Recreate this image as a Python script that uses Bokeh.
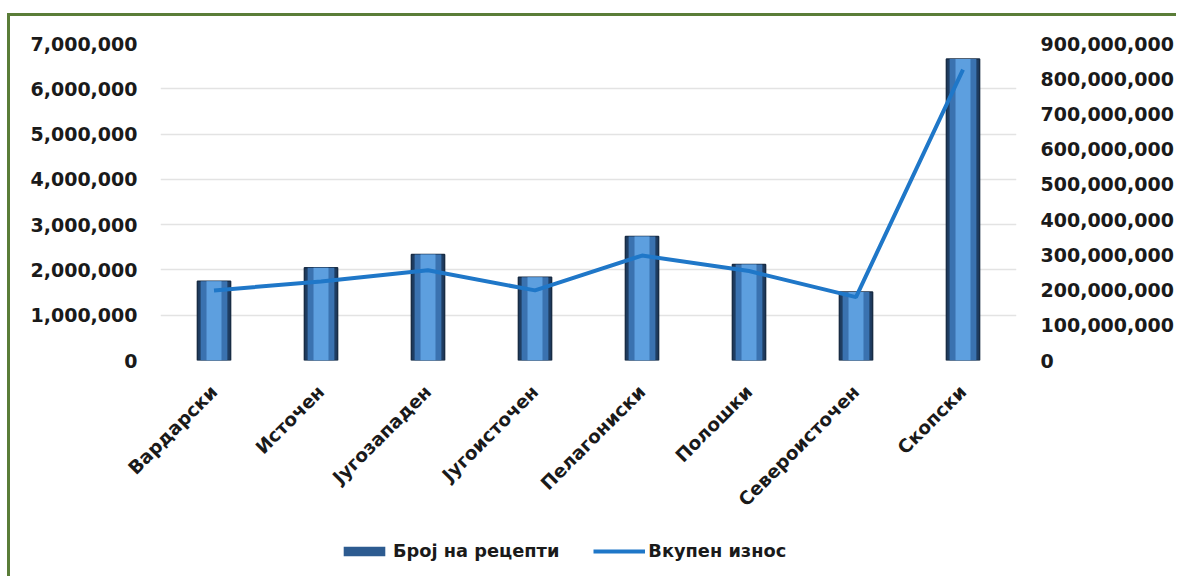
from math import pi
from bokeh.plotting import figure
from bokeh.models import (ColumnDataSource, FactorRange, Range1d, LinearAxis,
                          NumeralTickFormatter, Legend, LegendItem, FixedTicker)
from bokeh.layouts import column
from bokeh.embed import file_html
from bokeh.resources import INLINE

regions = ["Вардарски", "Источен", "Југозападен", "Југоисточен",
           "Пелагониски", "Полошки", "Североисточен", "Скопски"]
prescriptions = [1750000, 2050000, 2340000, 1840000, 2740000, 2120000, 1510000, 6660000]
total_amount = [199000000, 224000000, 256000000, 199000000, 298000000, 254000000, 180000000, 826000000]

left_ticks = [0, 1000000, 2000000, 3000000, 4000000, 5000000, 6000000, 7000000]
right_ticks = [0, 100000000, 200000000, 300000000, 400000000, 500000000,
               600000000, 700000000, 800000000, 900000000]

src = ColumnDataSource(dict(x=regions, bars=prescriptions, amt=total_amount))

FONT = "DejaVu Sans"
W = 1166
xr = FactorRange(*regions)

p = figure(x_range=xr, y_range=Range1d(0, 7000000),
           width=W, height=514, output_backend="svg", toolbar_location=None,
           min_border_left=150, min_border_right=160, min_border_top=27,
           min_border_bottom=170)
p.extra_y_ranges = {"amt": Range1d(0, 900000000)}
p.outline_line_color = None
p.background_fill_color = "white"
p.border_fill_color = "white"

outer = p.vbar(x="x", top="bars", width=0.31, source=src,
               fill_color="#1f3d62", line_color="#182c44", line_width=1.5)
mid = p.vbar(x="x", top="bars", width=0.25, source=src,
             fill_color="#3a72b0", line_color=None)
inner = p.vbar(x="x", top="bars", width=0.14, source=src,
               fill_color="#5d9fdf", line_color=None)

ln = p.line(x="x", y="amt", source=src, y_range_name="amt",
            line_color="#1f77c8", line_width=4)


def style_y(ax, standoff):
    ax.axis_line_color = None
    ax.major_tick_line_color = None
    ax.minor_tick_line_color = None
    ax.major_tick_out = 0
    ax.major_label_standoff = standoff
    ax.major_label_text_font = FONT
    ax.major_label_text_font_style = "bold"
    ax.major_label_text_font_size = "19px"
    ax.major_label_text_color = "#1a1a1a"


p.yaxis.ticker = FixedTicker(ticks=left_ticks)
p.yaxis.formatter = NumeralTickFormatter(format="0,0")
style_y(p.yaxis[0], 23)

ry = LinearAxis(y_range_name="amt", ticker=FixedTicker(ticks=right_ticks),
                formatter=NumeralTickFormatter(format="0,0"))
style_y(ry, 24)
p.add_layout(ry, "right")

xa = p.xaxis[0]
xa.axis_line_color = None
xa.major_tick_line_color = None
xa.minor_tick_line_color = None
xa.major_label_orientation = pi / 4
xa.major_label_standoff = 22
xa.major_label_text_font = FONT
xa.major_label_text_font_style = "bold"
xa.major_label_text_font_size = "18.5px"
xa.major_label_text_color = "#1a1a1a"

p.xgrid.grid_line_color = None
p.ygrid.grid_line_color = "#e3e3e3"
p.ygrid.grid_line_width = 1.5

# legend in its own strip below the chart; its glyphs use the chart data but
# are zero-size / outside this strip's y range, so only the legend shows
lg = figure(width=W, height=46, output_backend="svg", toolbar_location=None,
            x_range=xr, y_range=Range1d(-3e9, -2e9),
            min_border_left=150, min_border_right=160, min_border_top=0,
            min_border_bottom=0)
lg.axis.visible = False
lg.grid.visible = False
lg.outline_line_color = None
lg.background_fill_color = "white"
lg.border_fill_color = "white"
lbar = lg.vbar(x="x", top="bars", bottom="bars", width=0, source=src,
               fill_color="#2d5b90", line_color=None)
lline = lg.line(x="x", y="amt", source=src, line_color="#1f77c8", line_width=4)

legend = Legend(items=[LegendItem(label="Број на рецепти", renderers=[lbar]),
                       LegendItem(label="Вкупен износ", renderers=[lline])],
                orientation="horizontal", location=(178, 15),
                glyph_width=52, glyph_height=12, spacing=34,
                label_text_font=FONT, label_text_font_style="bold",
                label_text_font_size="17.8px", label_text_color="#1a1a1a",
                border_line_color=None, background_fill_alpha=0,
                padding=6, label_standoff=3)
lg.add_layout(legend, "center")

layout = column(p, lg, spacing=0,
                styles={"margin-top": "13px", "margin-left": "7px",
                        "border-left": "3px solid #5a7d38",
                        "border-top": "3px solid #5a7d38"})

open("out.html", "w").write(file_html(layout, INLINE))
